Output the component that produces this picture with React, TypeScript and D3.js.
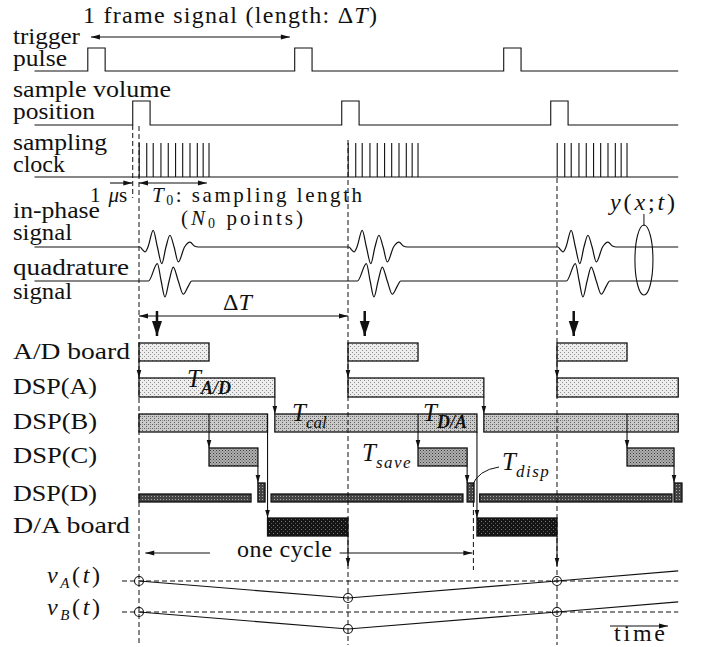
import React from 'react';
import * as d3 from 'd3';

// ---- data (time unit: one frame ΔT = 100) ----
const frames = [0, 100, 200];
const tRange = [-50, 258];
const triggerStarts = [-24.5, 74.5, 174.5];
const triggerWidth = 8.3;
const sampleVolumeStarts = [-3, 97, 197];
const sampleVolumeWidth = 8.3;
const clockOffsets = [0.1, 3.7, 6.8, 10.5, 14, 17.5, 20.9, 24.4, 27.9, 30.7, 33.5];
const inPhaseWave: [number, number][] = [
  [0.5, 0], [1.6, -0.15], [2.9, -0.29], [4.3, 0], [6.8, 0.98], [8.8, 0], [10.9, -0.98],
  [12.9, 0], [14.8, 0.69], [16.8, 0], [18.8, -0.88], [21.8, 0], [24.4, 0.29], [26.5, 0.06], [28.4, 0],
];
const quadratureWave: [number, number][] = [
  [4.5, 0], [8.8, 1.02], [10.6, 0], [12.4, -0.94], [14.4, 0], [16.4, 0.82], [18.8, 0],
  [21.2, -0.78], [23.6, -0.3], [25.2, 0],
];
const thickArrowT = [8.6, 108, 208];
const adBoard: [number, number][] = [[0, 33.5], [100, 133.5], [200, 233.5]];
const dspA: [number, number][] = [[0, 65], [100, 165], [200, 258]];
const dspB: [number, number][] = [[0, 61.5], [65, 161.7], [165, 258]];
const dspC: [number, number][] = [[33.5, 56.9], [133.5, 157], [233.5, 256]];
const dspDThin: [number, number][] = [[0, 53.6], [63.2, 155], [163, 255]];
const dspDBlock: [number, number][] = [[56.9, 60.3], [157, 160.3], [256, 259.8]];
const daBoard: [number, number][] = [[61.5, 100], [161.7, 200]];
const vA: [number, number][] = [[0, 0], [100, -1], [200, 0], [258, 0.59]];
const vB: [number, number][] = [[0, 0], [100, -1], [200, 0], [258, 0.59]];
const vMarks = [0, 100, 200];

const FONT = "Liberation Serif";

function headPath(x1: number, y1: number, x2: number, y2: number, len: number, hw: number) {
  const a = Math.atan2(y2 - y1, x2 - x1);
  const bx = x2 - len * Math.cos(a), by = y2 - len * Math.sin(a);
  const px = -Math.sin(a) * hw, py = Math.cos(a) * hw;
  return `M${x2},${y2}L${bx + px},${by + py}L${bx - px},${by - py}Z`;
}

function Arrow({ x1, y1, x2, y2, both = false, len = 9, hw = 2.6, sw = 1.1, dash }: any) {
  return (
    <g>
      <line x1={x1} y1={y1} x2={x2} y2={y2} stroke="#111" strokeWidth={sw} strokeDasharray={dash} />
      <path d={headPath(x1, y1, x2, y2, len, hw)} fill="#111" />
      {both && <path d={headPath(x2, y2, x1, y1, len, hw)} fill="#111" />}
    </g>
  );
}

export default function App() {
  const x = d3.scaleLinear().domain([0, 100]).range([139, 348]);
  const amp = d3.scaleLinear().domain([-1, 1]).range([17, -17]);

  const Y = {
    trig: 71, trigHi: 48,
    sv: 125, svHi: 101,
    clk: 177, clkHi: 143,
    ip: 247, qd: 281,
    ad: [343, 361], A: [378, 397], B: [414, 432], C: [448, 466],
    Dthin: [494, 502], Dblk: [483, 502], DA: [518, 536],
    vA: 581, vB: 612,
  };

  const pulsePts = (starts: number[], w: number) => {
    const pts: [number, number][] = [[tRange[0], 0]];
    starts.forEach((s) => pts.push([s, 0], [s, 1], [s + w, 1], [s + w, 0]));
    pts.push([tRange[1], 0]);
    return pts;
  };
  const pulseLine = (base: number, hi: number) =>
    d3.line<[number, number]>().x((d) => x(d[0])).y((d) => base + (hi - base) * d[1]);

  const wavePts = (wave: [number, number][]) => {
    const pts: [number, number][] = [[tRange[0], 0]];
    frames.forEach((f) => wave.forEach(([t, v]) => pts.push([t + f, v])));
    pts.push([tRange[1], 0]);
    return pts;
  };
  const waveLine = (base: number) =>
    d3.line<[number, number]>().x((d) => x(d[0])).y((d) => base + amp(d[1])).curve(d3.curveMonotoneX);

  const vScale = d3.scaleLinear().domain([0, -1]).range([0, 17]);
  const vLine = (base: number) => d3.line<[number, number]>().x((d) => x(d[0])).y((d) => base + vScale(d[1]));

  const bars = (data: [number, number][], yy: number[], fill: string, key: string) =>
    data.map(([a, b], i) => (
      <rect key={key + i} x={x(a)} y={yy[0]} width={x(b) - x(a)} height={yy[1] - yy[0]}
        fill={fill} stroke="#111" strokeWidth={1.3} />
    ));

  const dashes: { t: number; y1: number; y2: number }[] = [
    { t: -3, y1: 125, y2: 198 },
    { t: 0, y1: 126, y2: 645 },
    { t: 100, y1: 140, y2: 645 },
    { t: 200, y1: 178, y2: 645 },
    { t: 160, y1: 502, y2: 570 },
  ];

  const label = (txt: string, yy: number, len?: number) => (
    <text x={13} y={yy} fontSize={24} textLength={len} lengthAdjust="spacingAndGlyphs">{txt}</text>
  );

  const sub = (base: string, s: string, xx: number, yy: number, bs: number, ss: number, bold = false, ls = 0) => (
    <text x={xx} y={yy} fontSize={bs} fontStyle="italic">
      {base}
      <tspan fontSize={ss} dy={bs * 0.28} fontWeight={bold ? 'bold' : 'normal'} letterSpacing={ls}>{s}</tspan>
    </text>
  );

  return (
    <svg width={704} height={647} style={{ position: 'absolute', left: 0, top: 0, background: '#fff', fontFamily: FONT }}
      fontFamily={FONT} fill="#111">
      <defs>
        <pattern id="pL" width="4" height="4" patternUnits="userSpaceOnUse">
          <rect width="4" height="4" fill="#eeeeee" />
          <rect x="0" y="0" width="1" height="1" fill="#8c8c8c" />
          <rect x="2" y="2" width="1" height="1" fill="#8c8c8c" />
        </pattern>
        <pattern id="pB" width="4" height="4" patternUnits="userSpaceOnUse">
          <rect width="4" height="4" fill="#cbcbcb" />
          <rect x="0" y="0" width="1" height="1" fill="#5c5c5c" />
          <rect x="2" y="2" width="1" height="1" fill="#5c5c5c" />
          <rect x="2" y="0" width="1" height="1" fill="#8a8a8a" />
        </pattern>
        <pattern id="pC" width="3" height="3" patternUnits="userSpaceOnUse">
          <rect width="3" height="3" fill="#b0b0b0" />
          <rect x="0" y="0" width="1" height="1" fill="#3a3a3a" />
          <rect x="1.5" y="1.5" width="1" height="1" fill="#555" />
        </pattern>
        <pattern id="pD" width="3" height="3" patternUnits="userSpaceOnUse">
          <rect width="3" height="3" fill="#444" />
          <rect x="1" y="1" width="1" height="1" fill="#a8a8a8" />
        </pattern>
        <pattern id="pDA" width="4" height="4" patternUnits="userSpaceOnUse">
          <rect width="4" height="4" fill="#151515" />
          <rect x="1" y="1" width="1" height="1" fill="#7a7a7a" />
          <rect x="3" y="3" width="1" height="1" fill="#555" />
        </pattern>
      </defs>

      {/* title */}
      <text x={83} y={23} fontSize={24} textLength={294} lengthAdjust="spacing">
        1 frame signal (length: Δ<tspan fontStyle="italic">T</tspan>)
      </text>
      <Arrow x1={x(-23)} y1={37} x2={x(72.2)} y2={37} both />

      {/* left labels */}
      {label('trigger', 44, 67)}
      {label('pulse', 66, 54)}
      {label('sample volume', 97, 158)}
      {label('position', 119, 82)}
      {label('sampling', 150, 94)}
      {label('clock', 172, 52)}
      {label('in-phase', 218, 87)}
      {label('signal', 240, 59)}
      {label('quadrature', 275, 116)}
      {label('signal', 299, 59)}
      {label('A/D board', 359, 117)}
      {label('DSP(A)', 394, 84)}
      {label('DSP(B)', 429, 84)}
      {label('DSP(C)', 463, 84)}
      {label('DSP(D)', 501, 84)}
      {label('D/A board', 533, 117)}

      {/* pulses */}
      <path d={pulseLine(Y.trig, Y.trigHi)(pulsePts(triggerStarts, triggerWidth))!} fill="none" stroke="#111" strokeWidth={1.1} />
      <path d={pulseLine(Y.sv, Y.svHi)(pulsePts(sampleVolumeStarts, sampleVolumeWidth))!} fill="none" stroke="#111" strokeWidth={1.1} />

      {/* sampling clock */}
      <line x1={x(tRange[0])} x2={x(tRange[1])} y1={Y.clk} y2={Y.clk} stroke="#111" strokeWidth={1.1} />
      {frames.flatMap((f) => clockOffsets.map((o, i) => (
        <line key={f + '-' + i} x1={x(f + o)} x2={x(f + o)} y1={Y.clk} y2={Y.clkHi} stroke="#111" strokeWidth={1.1} />
      )))}

      {/* 1 us / T0 */}
      <Arrow x1={x(-13.9)} y1={183} x2={x(-3.2)} y2={183} />
      <Arrow x1={x(0)} y1={183} x2={x(32.5)} y2={183} both />
      <text x={90} y={202} fontSize={21}>1<tspan dx={8} fontStyle="italic">μ</tspan>s</text>
      <text x={152} y={202} fontSize={21} textLength={210} lengthAdjust="spacing">
        <tspan fontStyle="italic">T</tspan><tspan fontSize={14} dy={3}>0</tspan><tspan dy={-3}>: sampling length</tspan>
      </text>
      <text x={181} y={225} fontSize={21} textLength={122} lengthAdjust="spacing">
        (<tspan fontStyle="italic">N</tspan><tspan fontSize={14} dy={3}>0</tspan><tspan dy={-3}> points)</tspan>
      </text>

      {/* waves */}
      <path d={waveLine(Y.ip)(wavePts(inPhaseWave))!} fill="none" stroke="#111" strokeWidth={1.2} />
      <path d={waveLine(Y.qd)(wavePts(quadratureWave))!} fill="none" stroke="#111" strokeWidth={1.2} />

      {/* y(x;t) */}
      <text x={610} y={210} fontSize={24} textLength={65} lengthAdjust="spacing">
        <tspan fontStyle="italic">y</tspan>(<tspan fontStyle="italic">x</tspan>;<tspan fontStyle="italic">t</tspan>)
      </text>
      <line x1={x(241.6)} x2={x(241.6)} y1={214} y2={226} stroke="#111" />
      <ellipse cx={x(241.6)} cy={260} rx={9} ry={35} fill="none" stroke="#111" strokeWidth={1.1} />

      {/* ΔT */}
      <Arrow x1={x(0)} y1={316} x2={x(100)} y2={316} both />
      <text x={223} y={310} fontSize={24}>Δ<tspan fontStyle="italic">T</tspan></text>
      {thickArrowT.map((t, i) => (
        <Arrow key={'ta' + i} x1={x(t)} y1={311} x2={x(t)} y2={336} len={15} hw={5} sw={2.5} />
      ))}

      {/* bars */}
      {bars(adBoard, Y.ad, 'url(#pL)', 'ad')}
      {bars(dspA, Y.A, 'url(#pL)', 'a')}
      {bars(dspB, Y.B, 'url(#pB)', 'b')}
      {bars(dspC, Y.C, 'url(#pC)', 'c')}
      {bars(dspDThin, Y.Dthin, 'url(#pD)', 'dt')}
      {bars(dspDBlock, Y.Dblk, 'url(#pD)', 'db')}
      {bars(daBoard, Y.DA, 'url(#pDA)', 'da')}

      {/* dashed verticals */}
      {dashes.map((d, i) => (
        <line key={'d' + i} x1={x(d.t)} x2={x(d.t)} y1={d.y1} y2={d.y2} stroke="#111" strokeWidth={1} strokeDasharray="5,3" />
      ))}

      {/* flow arrows */}
      {adBoard.map(([a], i) => <Arrow key={'aa' + i} x1={x(a)} y1={Y.ad[1]} x2={x(a)} y2={Y.A[0]} len={8} hw={2.3} />)}
      {dspA.slice(0, 2).map(([, b], i) => <Arrow key={'ab' + i} x1={x(b)} y1={Y.A[1]} x2={x(b)} y2={Y.B[0]} len={8} hw={2.3} />)}
      {dspC.map(([a], i) => <Arrow key={'bc' + i} x1={x(a)} y1={Y.B[0]} x2={x(a)} y2={Y.C[0]} len={8} hw={2.3} />)}
      {dspC.map(([, b], i) => <Arrow key={'cd' + i} x1={x(b)} y1={Y.C[1]} x2={x(b)} y2={Y.Dblk[0]} len={8} hw={2.3} />)}
      {daBoard.map(([a], i) => <Arrow key={'bd' + i} x1={x(a)} y1={Y.B[1]} x2={x(a)} y2={Y.DA[0]} len={8} hw={2.3} />)}
      {daBoard.map(([, b], i) => <Arrow key={'dv' + i} x1={x(b)} y1={Y.DA[1]} x2={x(b)} y2={566} len={8} hw={2.3} />)}

      {/* T labels */}
      {sub('T', 'A/D', 187, 387, 25, 18, true)}
      {sub('T', 'cal', 292, 421, 25, 17)}
      {sub('T', 'D/A', 423, 421, 25, 18, true)}
      {sub('T', 'save', 362, 461, 25, 17, false, 1.5)}
      {sub('T', 'disp', 502, 470, 25, 17, false, 1.5)}
      <path d="M472,486 Q478,470 499,467" fill="none" stroke="#111" strokeWidth={1} />

      {/* one cycle */}
      <Arrow x1={x(34)} y1={553} x2={x(3)} y2={553} />
      <Arrow x1={x(96)} y1={553} x2={x(159.5)} y2={553} />
      <text x={237} y={557} fontSize={24} textLength={95} lengthAdjust="spacing">one cycle</text>

      {/* v lines */}
      <line x1={122} x2={x(tRange[1])} y1={Y.vA} y2={Y.vA} stroke="#111" strokeDasharray="5,3" />
      <line x1={122} x2={x(tRange[1])} y1={Y.vB} y2={Y.vB} stroke="#111" strokeDasharray="5,3" />
      <path d={vLine(Y.vA)(vA)!} fill="none" stroke="#111" strokeWidth={1.2} />
      <path d={vLine(Y.vB)(vB)!} fill="none" stroke="#111" strokeWidth={1.2} />
      {vMarks.map((t, i) => {
        const iA = vA.findIndex((d) => d[0] === t);
        const iB = vB.findIndex((d) => d[0] === t);
        return (
          <g key={'vm' + i}>
            <circle cx={x(t)} cy={Y.vA + vScale(vA[iA][1])} r={4.5} fill="none" stroke="#111" strokeWidth={1.1} />
            <circle cx={x(t)} cy={Y.vB + vScale(vB[iB][1])} r={4.5} fill="none" stroke="#111" strokeWidth={1.1} />
          </g>
        );
      })}
      <text x={47} y={583} fontSize={24} textLength={53} lengthAdjust="spacing">
        <tspan fontStyle="italic">v</tspan><tspan fontSize={15} fontStyle="italic" dy={5}>A</tspan><tspan dy={-5}>(</tspan><tspan fontStyle="italic">t</tspan>)
      </text>
      <text x={47} y={615} fontSize={24} textLength={53} lengthAdjust="spacing">
        <tspan fontStyle="italic">v</tspan><tspan fontSize={15} fontStyle="italic" dy={5}>B</tspan><tspan dy={-5}>(</tspan><tspan fontStyle="italic">t</tspan>)
      </text>

      {/* time */}
      <Arrow x1={610} y1={626} x2={668} y2={626} len={9} hw={2.5} />
      <text x={614} y={641} fontSize={24} textLength={51} lengthAdjust="spacing">time</text>
    </svg>
  );
}
